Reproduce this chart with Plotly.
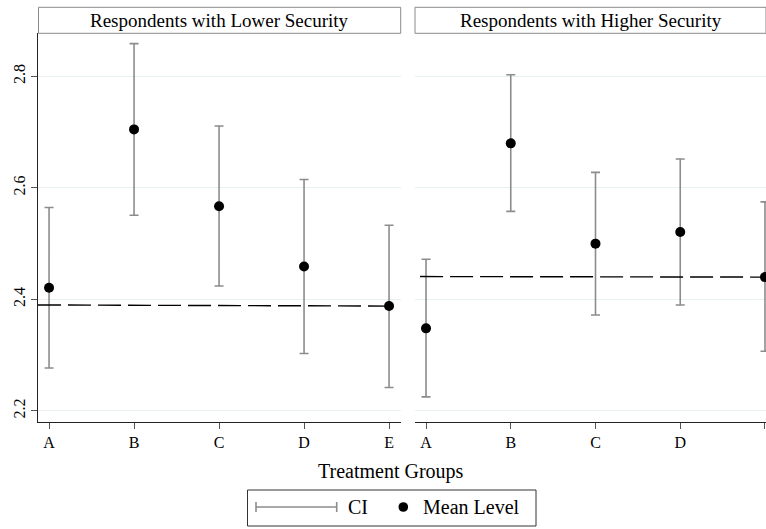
import plotly.graph_objects as go

# ---------------- data ----------------
groups = ["A", "B", "C", "D", "E"]
x_pos = [1, 2, 3, 4, 5]

lower_mean = [2.421, 2.705, 2.567, 2.459, 2.388]
lower_ci_lo = [2.277, 2.551, 2.424, 2.303, 2.242]
lower_ci_hi = [2.565, 2.859, 2.711, 2.615, 2.533]

higher_mean = [2.348, 2.680, 2.500, 2.521, 2.440]
higher_ci_lo = [2.225, 2.558, 2.372, 2.390, 2.307]
higher_ci_hi = [2.472, 2.803, 2.628, 2.652, 2.575]

ref_lower_x = [0.87, 5]
ref_lower_y = [2.390, 2.388]
ref_higher_x = [0.93, 5]
ref_higher_y = [2.441, 2.440]

y_ticks = [2.2, 2.4, 2.6, 2.8]
panel_titles = ["Respondents with Lower Security", "Respondents with Higher Security"]

# ---------------- styling ----------------
FONT = "Liberation Serif, Times New Roman, serif"
W, H = 766, 529
ML, MR, MT, MB = 38, 0, 33, 107
PW = W - ML - MR
PH = H - MT - MB
CI_COLOR = "#8c8c8c"
GRID = "#e8f0f0"


def px_x(x):
    return (x - ML) / PW


def px_y(y):
    return (H - MB - y) / PH


fig = go.Figure()

panels = [
    (lower_mean, lower_ci_lo, lower_ci_hi, ref_lower_x, ref_lower_y, "x", "y"),
    (higher_mean, higher_ci_lo, higher_ci_hi, ref_higher_x, ref_higher_y, "x2", "y2"),
]
for mean, lo, hi, rx, ry, xa, ya in panels:
    fig.add_trace(go.Scatter(
        x=x_pos, y=mean, mode="markers", xaxis=xa, yaxis=ya,
        marker=dict(color="black", size=10),
        error_y=dict(type="data", symmetric=False,
                     array=[h - m for h, m in zip(hi, mean)],
                     arrayminus=[m - l for m, l in zip(mean, lo)],
                     color=CI_COLOR, thickness=1.6, width=4.5),
        hoverinfo="skip",
    ))
    fig.add_trace(go.Scatter(
        x=rx, y=ry, mode="lines", xaxis=xa, yaxis=ya,
        line=dict(color="black", width=1.4, dash="23px,7px"),
        hoverinfo="skip",
    ))

xcommon = dict(tickvals=x_pos, ticktext=groups, showline=True, linecolor="#222",
               linewidth=1.2, ticks="outside", ticklen=6, tickcolor="#555",
               tickwidth=1.2, showgrid=False, zeroline=False,
               tickfont=dict(family=FONT, size=16, color="black"))

fig.update_layout(
    width=W, height=H,
    margin=dict(l=ML, r=MR, t=MT, b=MB, pad=0),
    plot_bgcolor="white", paper_bgcolor="white",
    showlegend=False,
    font=dict(family=FONT, color="black"),
    xaxis=dict(domain=[0, px_x(400.7)], range=[0.87, 5.137], anchor="y", **xcommon),
    xaxis2=dict(domain=[px_x(415), 1], range=[0.87, 5.012], anchor="y2", **xcommon),
    yaxis=dict(domain=[0, 1], range=[2.180, 2.878], anchor="x",
               tickvals=y_ticks, ticktext=[f"{v:.1f}" for v in y_ticks],
               tickangle=-90, showline=True, linecolor="#222", linewidth=1.2,
               ticks="outside", ticklen=6, tickcolor="#555", tickwidth=1.2,
               showgrid=True, gridcolor=GRID, gridwidth=1, zeroline=False,
               tickfont=dict(family=FONT, size=16, color="black")),
    yaxis2=dict(domain=[0, 1], range=[2.180, 2.878], anchor="x2", matches="y",
                tickvals=y_ticks, showticklabels=False, showline=False, ticks="",
                showgrid=True, gridcolor=GRID, gridwidth=1, zeroline=False),
)

shapes = []
annotations = []

# strip title boxes
for (x0, x1), title in zip([(38.5, 400.7), (415, 766)], panel_titles):
    shapes.append(dict(type="rect", xref="paper", yref="paper",
                       x0=px_x(x0), x1=px_x(x1), y0=px_y(33.3), y1=px_y(7.3),
                       line=dict(color="#8a8a8a", width=1), fillcolor="white"))
    annotations.append(dict(text=title, xref="paper", yref="paper",
                            x=px_x((x0 + x1) / 2), y=px_y(20.5),
                            xanchor="center", yanchor="middle", showarrow=False,
                            font=dict(family=FONT, size=19, color="black")))

# x-axis title
annotations.append(dict(text="Treatment Groups", xref="paper", yref="paper",
                        x=px_x(391), y=px_y(471), xanchor="center", yanchor="middle",
                        showarrow=False, font=dict(family=FONT, size=20, color="black")))

# legend
ly = 507
shapes.append(dict(type="rect", xref="paper", yref="paper",
                   x0=px_x(247.5), x1=px_x(536), y0=px_y(526), y1=px_y(490),
                   line=dict(color="#333", width=1), fillcolor="white"))
shapes.append(dict(type="line", xref="paper", yref="paper",
                   x0=px_x(256), x1=px_x(336.7), y0=px_y(ly), y1=px_y(ly),
                   line=dict(color=CI_COLOR, width=1.6)))
for cx in (256, 336.7):
    shapes.append(dict(type="line", xref="paper", yref="paper",
                       x0=px_x(cx), x1=px_x(cx), y0=px_y(ly - 5), y1=px_y(ly + 5),
                       line=dict(color=CI_COLOR, width=1.6)))
shapes.append(dict(type="circle", xref="paper", yref="paper",
                   x0=px_x(403.3 - 4.8), x1=px_x(403.3 + 4.8),
                   y0=px_y(ly - 4.8), y1=px_y(ly + 4.8),
                   line=dict(color="black", width=0), fillcolor="black"))
annotations.append(dict(text="CI", xref="paper", yref="paper", x=px_x(346), y=px_y(ly),
                        xanchor="left", yanchor="middle", showarrow=False,
                        font=dict(family=FONT, size=20, color="black")))
annotations.append(dict(text="Mean Level", xref="paper", yref="paper", x=px_x(420.5), y=px_y(ly),
                        xanchor="left", yanchor="middle", showarrow=False,
                        font=dict(family=FONT, size=20, color="black")))

fig.update_layout(shapes=shapes, annotations=annotations)
fig.write_html(
    "out.html",
    config={"displayModeBar": False},
    post_script="document.body.style.margin='0';document.body.style.overflow='hidden';",
)
